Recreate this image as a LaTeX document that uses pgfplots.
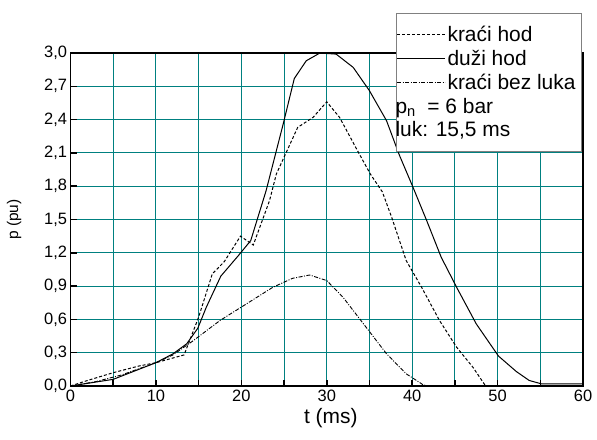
\documentclass[border=0pt]{standalone}
\usepackage{fontspec}
\setmainfont{Liberation Sans}
\usepackage{pgfplots}
\pgfplotsset{compat=1.18}
\definecolor{gridteal}{RGB}{0,128,128}

\begin{document}
\begin{tikzpicture}
\begin{axis}[
  scale only axis,
  width=512.5bp, height=333bp,
  xmin=0, xmax=60, ymin=0, ymax=3,
  xtick={0,10,20,30,40,50,60},
  minor xtick={5,15,25,35,45,55},
  ytick={0,0.3,0.6,0.9,1.2,1.5,1.8,2.1,2.4,2.7,3.0},
  grid=both,
  major grid style={gridteal, line width=1bp},
  minor grid style={gridteal, line width=1bp},
  tick align=inside,
  xtick pos=bottom, ytick pos=left,
  major tick length=6bp, minor tick length=6bp,
  every tick/.style={black, line width=1.5bp},
  axis line style={black, line width=1.4bp},
  /pgf/number format/assume math mode=true,
  tick label style={font=\fontsize{16.5}{18}\selectfont},
  y tick label style={/pgf/number format/fixed, /pgf/number format/fixed zerofill, /pgf/number format/precision=1, /pgf/number format/use comma},
  xlabel={t (ms)},
  ylabel={p (pu)},
  every axis x label/.style={at={(axis description cs:0.508,-0.096)}, anchor=center, font=\fontsize{21}{24}\selectfont},
  every axis y label/.style={at={(axis description cs:-0.110,0.5)}, rotate=90, anchor=center, font=\fontsize{15.5}{18}\selectfont},
  legend cell align=left,
  legend image code/.code={\draw[#1] (0bp,0bp) -- (48bp,0bp);},
  legend style={at={(axis description cs:0.998,1.12)}, anchor=north east,
    draw=gray, line width=1bp, fill=white,
    font=\fontsize{21}{22}\selectfont, row sep=3bp, inner xsep=0bp, inner ysep=11bp,
    nodes={inner sep=2bp}},
]
\addplot[black, line width=1bp, dash pattern=on 3bp off 2bp] coordinates {
(0,0) (2,0.05) (5,0.12) (8,0.18) (10,0.21) (13.3,0.28) (15,0.62) (16.6,1.01) (18,1.12) (19.9,1.35) (21.4,1.27) (23.3,1.67) (24.1,1.91) (26.6,2.33) (28.4,2.42) (30,2.56) (31.5,2.42) (33.6,2.12) (35.1,1.91) (36.5,1.75) (37.6,1.52) (39.3,1.13) (41.1,0.89) (43.2,0.59) (45.2,0.35) (47.1,0.17) (48.6,0)
};
\addlegendentry{kraći hod}
\addplot[black, line width=1bp] coordinates {
(0,0) (5,0.06) (10,0.21) (12,0.29) (13.6,0.38) (14.9,0.52) (15.9,0.71) (17.6,0.99) (19.6,1.17) (21.1,1.31) (22.9,1.76) (24.9,2.36) (26.2,2.77) (27.6,2.93) (29.2,3.0) (31.1,2.99) (33.1,2.87) (35,2.66) (37,2.39) (38.5,2.08) (40.1,1.79) (41.7,1.49) (43.4,1.16) (45.2,0.89) (47.5,0.56) (50.1,0.27) (52.2,0.13) (53.7,0.05) (55.1,0.02) (60,0.02)
};
\addlegendentry{duži hod}
\addplot[black, line width=0.9bp, dash pattern=on 4bp off 1.5bp on 1bp off 1.5bp] coordinates {
(0,0) (3,0.04) (6,0.1) (10,0.21) (12,0.28) (14.4,0.41) (17.5,0.59) (20.6,0.74) (23.7,0.89) (26,0.97) (28,1.0) (30,0.95) (31.9,0.8) (34.6,0.53) (37,0.29) (39.3,0.11) (41.3,0.01) (42,0) (60,0)
};
\addlegendentry{kraći bez luka\hspace*{4bp}}
\addlegendimage{empty legend}
\addlegendentry{\hspace*{-52bp}p\textsubscript{n}\ \ = 6 bar}
\addlegendimage{empty legend}
\addlegendentry{\hspace*{-52bp}luk: 15,5 ms}
\coordinate (SW) at (rel axis cs:0,0);
\coordinate (NE) at (rel axis cs:1,1);
\end{axis}
\path ([shift={(-70.5bp,-53bp)}]SW) rectangle ([shift={(14bp,53bp)}]NE);
\end{tikzpicture}
\end{document}
